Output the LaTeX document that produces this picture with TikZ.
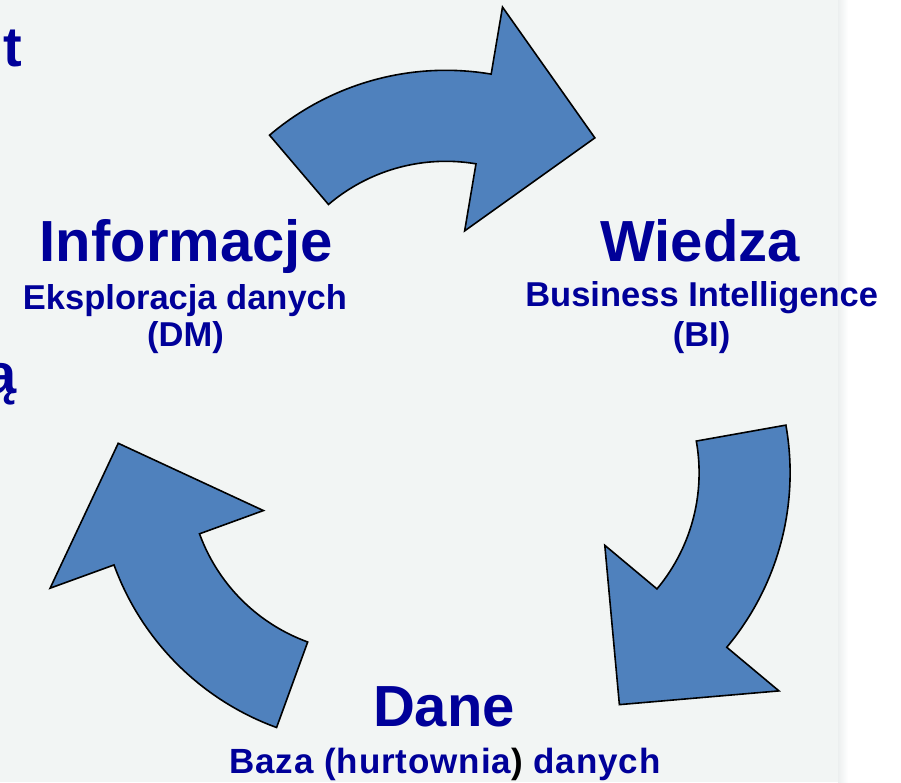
\documentclass[tikz,border=0pt]{standalone}
\usepackage{fontspec}
\setmainfont{Liberation Sans}
\definecolor{bg}{HTML}{F2F5F4}
\definecolor{bgedge}{HTML}{ECEFEF}
\definecolor{txtblue}{HTML}{000099}
\definecolor{arrowblue}{HTML}{4F81BD}
\tikzset{
  arrowshape/.style={fill=arrowblue, draw=black, line width=1.6pt, line join=miter},
  bigtitle/.style={text=txtblue, font=\bfseries\fontsize{58}{58}\selectfont, inner sep=0pt, anchor=base},
  subtitle/.style={text=txtblue, font=\bfseries\fontsize{34.5}{37}\selectfont, inner sep=0pt, anchor=base},
  cutoff/.style={text=txtblue, font=\bfseries\fontsize{56}{56}\selectfont, inner sep=0pt},
}
% cx, cy, start angle (image coordinates, y downwards)
\newcommand\cyclearrow[3]{%
  \pgfmathsetmacro\ta{#3}%
  \pgfmathsetmacro\tb{#3+50}%
  \pgfmathsetmacro\tc{#3+76.5}%
  \filldraw[arrowshape]
    plot[domain=\ta:\tb, samples=80] ({#1+272*cos(\x)},{#2+272*sin(\x)})
    -- ({#1+340*cos(\tb)},{#2+340*sin(\tb)})
    -- ({#1+253*cos(\tc)},{#2+253*sin(\tc)})
    -- ({#1+113*cos(\tb)},{#2+113*sin(\tb)})
    -- plot[domain=\tb:\ta, samples=80] ({#1+181*cos(\x)},{#2+181*sin(\x)})
    -- cycle;}
\begin{document}
\begin{tikzpicture}[x=1pt,y=-1pt]
  \useasboundingbox (0,0) rectangle (901,782);
  \clip (0,0) rectangle (901,782);
  % background
  \fill[white] (0,0) rectangle (901,782);
  \fill[bg] (0,0) rectangle (843,782);
  \shade[left color=bgedge, right color=white] (838,0) rectangle (848,782);
  % arrows of the cycle
  \cyclearrow{445.8}{342.3}{-130.4}
  \cyclearrow{518.1}{472.8}{-10.1}
  \cyclearrow{369.6}{471.9}{110.0}
  % cut-off letters at the left edge
  \node[cutoff, anchor=base west] (frag1) at (3,66.7) {t};
  \node[cutoff, anchor=base east] (frag2) at (17,393) {ą};
  % labels
  \node[bigtitle] (info) at (186.5,261.5) {Informacje};
  \node[subtitle] (infosub) at (185,309.5) {Eksploracja danych};
  \node[subtitle] (infodm) at (185.5,346.5) {(DM)};
  \node[bigtitle] (wiedza) at (700,261.5) {Wiedza};
  \node[subtitle] (wiedzasub) at (701.7,306.5) {Business Intelligence};
  \node[subtitle] (wiedzabi) at (701.5,346.5) {(BI)};
  \node[bigtitle] (dane) at (444,726.5) {Dane};
  \node[subtitle, font=\bfseries\fontsize{35}{37}\selectfont\addfontfeatures{LetterSpace=2.6}] (danesub) at (445,773)
    {Baza (hurtownia\textcolor{black}{)} danych};
\end{tikzpicture}
\end{document}
